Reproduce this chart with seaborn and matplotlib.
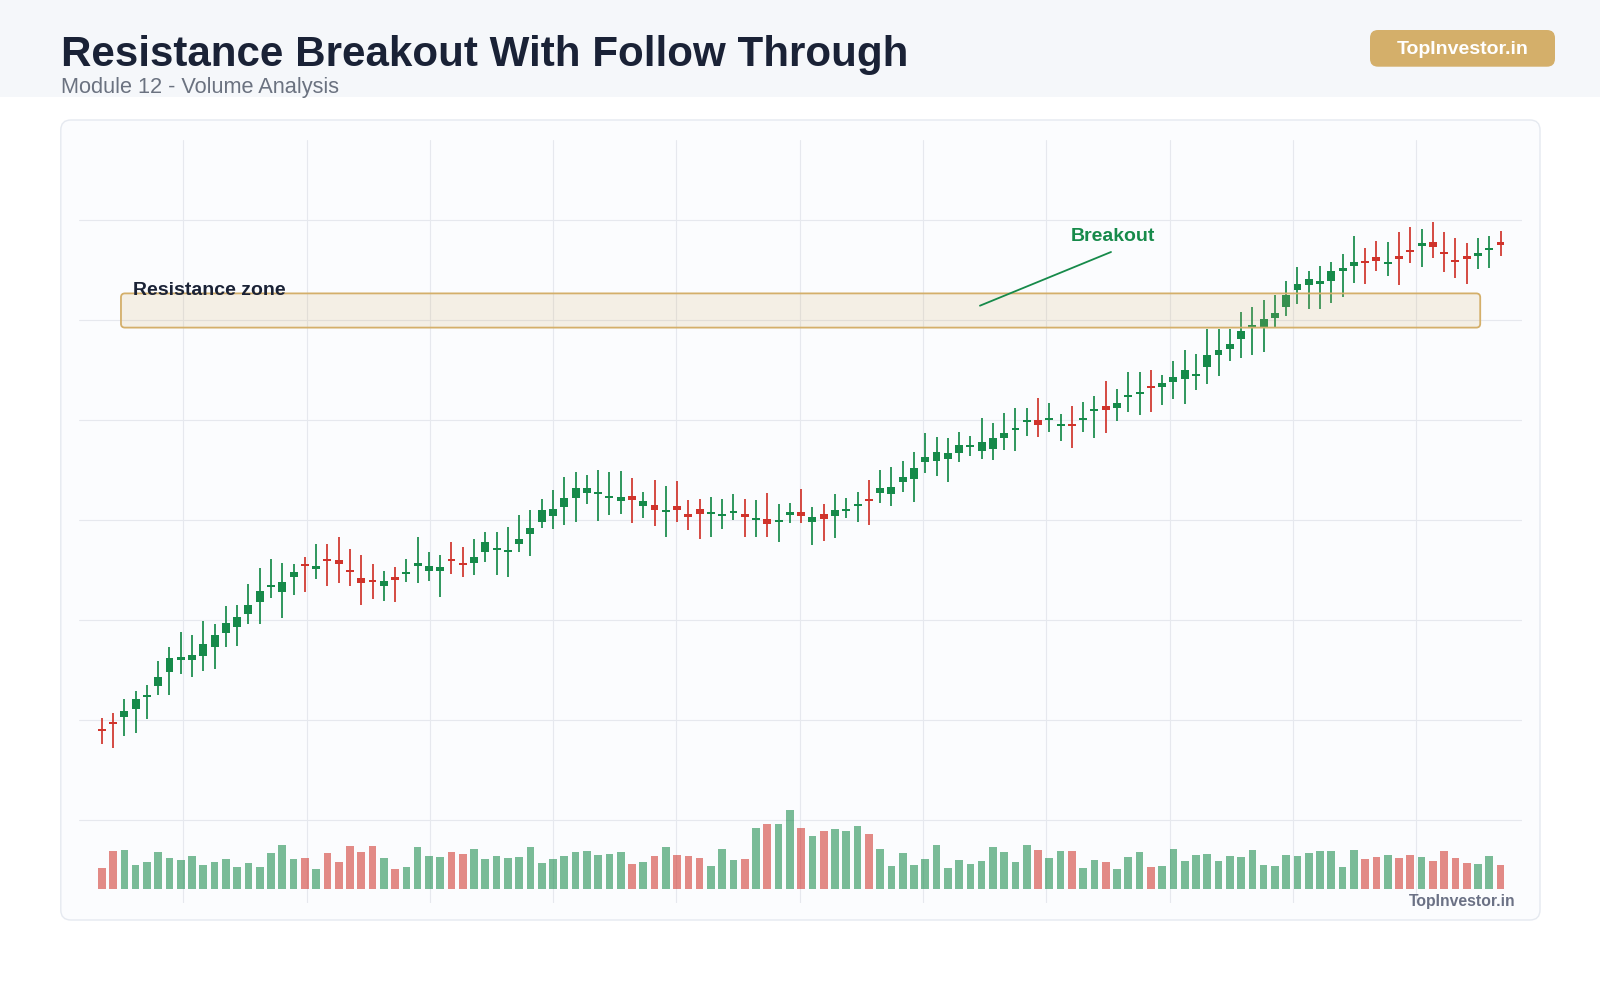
import numpy as np
import pandas as pd
import matplotlib
matplotlib.use("Agg")
import matplotlib.pyplot as plt
from matplotlib.patches import FancyBboxPatch, Rectangle
from matplotlib.colors import to_rgba
import seaborn as sns

# =============================================================================
# DATA
# =============================================================================
TITLE = "Resistance Breakout With Follow Through"
SUBTITLE = "Module 12 - Volume Analysis"
BRAND = "TopInvestor.in"

opens = [99.10, 99.80, 100.31, 101.11, 102.40, 103.44, 104.87, 106.04, 106.01, 106.47,
         107.37, 108.77, 109.37, 110.67, 111.81, 113.40, 112.81, 114.37, 115.60, 115.11,
         116.10, 116.04, 115.00, 114.24, 114.00, 113.41, 114.25, 114.70, 115.55, 114.97,
         114.91, 116.10, 115.70, 115.71, 116.81, 117.10, 116.90, 117.61, 118.61, 119.87,
         120.47, 121.37, 122.27, 122.77, 122.70, 122.30, 121.97, 122.44, 121.41, 121.54,
         120.90, 121.41, 120.55, 121.11, 120.70, 120.50, 120.80, 120.64, 120.10, 120.14,
         119.95, 120.65, 120.87, 119.87, 120.61, 120.41, 121.00, 121.50, 122.10, 122.74,
         122.61, 123.81, 124.11, 125.81, 125.97, 126.17, 126.74, 127.40, 126.91, 127.11,
         128.21, 129.10, 129.90, 130.01, 130.10, 129.50, 129.60, 130.10, 131.00, 131.41,
         131.21, 132.40, 132.70, 133.40, 133.31, 133.87, 134.11, 134.50, 135.34, 136.57,
         137.17, 138.11, 139.40, 139.34, 140.21, 141.31, 143.07, 143.57, 143.75, 143.91,
         144.91, 145.47, 145.90, 146.31, 145.70, 146.35, 147.00, 147.44, 147.81, 146.80,
         146.00, 146.44, 146.41, 147.10, 147.81]
highs = [100.21, 100.71, 102.14, 102.94, 103.54, 105.94, 107.34, 108.81, 108.54, 109.94,
         109.64, 111.44, 111.54, 113.64, 115.21, 116.14, 115.74, 115.64, 116.34, 117.64,
         117.64, 118.34, 117.14, 116.54, 115.64, 114.94, 115.34, 116.14, 118.34, 116.84,
         116.54, 117.84, 117.34, 118.14, 118.84, 118.84, 119.34, 120.54, 121.04, 122.14,
         123.04, 124.34, 124.84, 124.54, 125.04, 124.84, 124.94, 124.24, 122.84, 124.04,
         123.44, 123.94, 122.04, 122.14, 122.34, 122.14, 122.64, 122.14, 122.04, 122.74,
         121.64, 121.74, 123.14, 121.34, 121.64, 122.64, 122.24, 122.84, 124.04, 125.04,
         125.34, 125.94, 126.84, 128.74, 128.34, 128.24, 128.84, 128.44, 130.24, 129.74,
         130.74, 131.24, 131.24, 132.24, 131.74, 130.64, 131.44, 131.84, 132.44, 133.94,
         133.14, 134.84, 134.84, 135.04, 134.54, 135.94, 137.04, 136.64, 139.14, 139.14,
         139.14, 140.84, 141.34, 142.04, 142.54, 143.94, 145.34, 144.94, 145.44, 145.84,
         146.64, 148.44, 147.24, 147.94, 147.84, 148.84, 149.34, 149.14, 149.84, 148.84,
         148.24, 147.74, 148.24, 148.44, 148.94]
lows = [97.64, 97.24, 98.44, 98.77, 100.14, 102.57, 102.57, 104.64, 104.37, 104.94,
        105.14, 107.34, 107.44, 109.64, 109.64, 112.24, 110.24, 112.54, 112.84, 114.14,
        113.44, 113.74, 113.44, 111.54, 112.14, 111.94, 111.84, 113.84, 113.74, 113.94,
        112.37, 114.67, 114.37, 114.57, 115.87, 114.57, 114.37, 116.87, 116.47, 119.27,
        119.17, 119.57, 119.87, 121.67, 119.97, 120.57, 120.67, 119.77, 120.27, 119.47,
        118.37, 119.87, 119.07, 118.17, 118.37, 119.17, 120.07, 118.37, 118.37, 118.37,
        117.87, 119.77, 119.77, 117.57, 117.97, 118.27, 120.27, 119.87, 119.57, 121.77,
        121.47, 122.87, 121.87, 124.77, 124.47, 123.87, 125.87, 126.47, 126.17, 126.07,
        127.07, 126.97, 128.47, 128.37, 128.87, 127.97, 127.27, 128.87, 128.27, 128.77,
        129.97, 130.87, 130.57, 130.87, 131.57, 132.17, 131.67, 133.07, 133.67, 134.44,
        135.94, 136.27, 136.54, 136.84, 139.34, 140.47, 141.67, 141.17, 141.17, 141.77,
        142.37, 143.77, 143.67, 144.97, 144.47, 143.57, 145.77, 145.37, 146.27, 144.87,
        144.27, 143.67, 145.17, 145.27, 146.47]
closes = [99.00, 99.70, 100.91, 102.11, 102.50, 104.31, 106.21, 106.31, 106.51, 107.61,
          108.51, 109.71, 110.37, 111.51, 112.94, 113.50, 113.81, 114.84, 115.50, 115.44,
          115.95, 115.67, 114.90, 113.77, 113.90, 113.94, 114.15, 114.80, 115.65, 115.44,
          115.34, 116.00, 115.60, 116.31, 117.81, 117.20, 117.00, 118.17, 119.21, 121.01,
          121.14, 122.24, 123.21, 123.24, 122.80, 122.40, 122.34, 122.07, 121.91, 121.07,
          121.00, 121.07, 120.45, 120.61, 120.80, 120.60, 120.90, 120.31, 120.20, 119.67,
          120.00, 120.75, 120.47, 120.34, 120.14, 121.01, 121.10, 121.60, 122.00, 123.21,
          123.31, 124.31, 125.21, 126.31, 126.81, 126.71, 127.57, 127.50, 127.87, 128.21,
          128.71, 129.20, 130.00, 129.51, 130.20, 129.60, 129.50, 130.20, 131.10, 131.01,
          131.71, 132.50, 132.80, 133.30, 133.71, 134.34, 135.04, 134.60, 136.54, 137.04,
          137.64, 138.94, 139.50, 140.14, 140.77, 142.54, 143.61, 144.11, 143.85, 144.91,
          145.24, 145.84, 145.80, 145.91, 145.80, 146.25, 146.95, 147.71, 147.34, 146.70,
          145.90, 146.11, 146.74, 147.20, 147.54]
# volume in 10k shares
volumes = [21, 38, 39, 24, 27, 37, 31, 29, 33, 24, 27, 30, 22, 26, 22, 36, 44, 30, 31, 20,
           36, 27, 43, 37, 43, 31, 20, 22, 42, 33, 32, 37, 35, 40, 30, 33, 31, 32, 42, 26,
           30, 33, 37, 38, 34, 35, 37, 25, 27, 33, 42, 34, 33, 31, 23, 40, 29, 30, 61, 65,
           65, 79, 61, 53, 58, 60, 58, 63, 55, 40, 23, 36, 24, 30, 44, 21, 29, 25, 28, 42,
           37, 27, 44, 39, 31, 38, 38, 21, 29, 27, 20, 32, 37, 22, 23, 40, 28, 34, 35, 28,
           33, 32, 39, 24, 23, 34, 33, 36, 38, 38, 22, 39, 30, 32, 34, 31, 34, 32, 28, 38,
           31, 26, 25, 33, 24]

RESISTANCE_LOW = 139.28
RESISTANCE_HIGH = 142.70
ZONE_START, ZONE_END = 1.7, 122.2
ZONE_LABEL = "Resistance zone"
BREAKOUT_LABEL = "Breakout"
BREAKOUT_LINE_X = [77.85, 89.47]
BREAKOUT_LINE_Y = [141.47, 146.84]
BREAKOUT_TEXT_XY = (89.65, 148.37)

PRICE_GRID = [90, 100, 110, 120, 130, 140, 150]
TIME_GRID_START, TIME_GRID_STEP, TIME_GRID_COUNT = 7.22, 10.93, 11

# =============================================================================
# STYLE
# =============================================================================
GREEN = "#168A4A"
RED = "#D0342C"
GOLD = "#D4AF6A"
NAVY = "#1A2236"
GREY_TEXT = "#6B7280"
GRID = "#E6E8EE"

sns.set_theme(style="whitegrid")
plt.rcParams["font.family"] = ["Liberation Sans", "DejaVu Sans"]

df = pd.DataFrame({"open": opens, "high": highs, "low": lows, "close": closes, "volume": volumes})
df["idx"] = np.arange(len(df))
df["up"] = df["close"] >= df["open"]
df["color"] = np.where(df["up"], GREEN, RED)
MIN_BODY = 0.22
body = (df["close"] - df["open"]).abs()
mid = (df["close"] + df["open"]) / 2
df["body_h"] = np.maximum(body, MIN_BODY)
df["body_b"] = np.where(body < MIN_BODY, mid - MIN_BODY / 2, np.minimum(df["open"], df["close"]))

fig = plt.figure(figsize=(16, 10), dpi=100, facecolor="white")

# header band + chart card
fig.patches.append(Rectangle((0, 0.9033), 1, 0.0967, transform=fig.transFigure,
                             facecolor="#F5F7FA", edgecolor="none", zorder=-3))
fig.patches.append(FancyBboxPatch((0.038, 0.08), 0.9245, 0.80, transform=fig.transFigure,
                                  boxstyle="round,pad=0,rounding_size=0.00625", mutation_aspect=1.6,
                                  facecolor="#FBFCFE", edgecolor="#E5E9F0", lw=1.0, zorder=-2))

fig.text(0.03825, 0.9343, TITLE, fontsize=30.3, fontweight="bold", color=NAVY, va="baseline")
fig.text(0.03825, 0.9067, SUBTITLE, fontsize=15.7, color=GREY_TEXT, va="baseline")

fig.patches.append(FancyBboxPatch((0.85625, 0.9333), 0.115625, 0.0367, transform=fig.transFigure,
                                  boxstyle="round,pad=0,rounding_size=0.005", mutation_aspect=1.6,
                                  facecolor=GOLD, edgecolor="none", zorder=1))
fig.text(0.9141, 0.9507, BRAND, fontsize=14, fontweight="bold", color="white", ha="center", va="center")

# =============================================================================
# PRICE AXES
# =============================================================================
ax = fig.add_axes([0.0491, 0.097, 0.9024, 0.763])
ax.set_facecolor("none")
for s in ax.spines.values():
    s.set_visible(False)

ax.vlines(df["idx"], df["low"], df["high"], colors=df["color"], lw=1.25, zorder=2)
ax.bar(df["idx"], df["body_h"], bottom=df["body_b"], width=0.7, color=df["color"],
       edgecolor="none", zorder=3)

ax.set_xlim(-2.06, 125.94)
ax.set_ylim(81.74, 158.04)
ax.set_yticks(PRICE_GRID)
ax.set_xticks([TIME_GRID_START + TIME_GRID_STEP * k for k in range(TIME_GRID_COUNT)])
ax.set_xticklabels([])
ax.set_yticklabels([])
ax.tick_params(length=0)
ax.grid(True, color=GRID, lw=0.8)
ax.set_axisbelow(True)

# resistance zone
zone = FancyBboxPatch((ZONE_START, RESISTANCE_LOW), ZONE_END - ZONE_START, RESISTANCE_HIGH - RESISTANCE_LOW,
                      boxstyle="round,pad=0,rounding_size=0.35", mutation_aspect=1.13,
                      facecolor=to_rgba(GOLD, 0.17), edgecolor=GOLD, lw=1.3, zorder=4)
ax.add_patch(zone)
ax.text(ZONE_START + 1.04, RESISTANCE_HIGH - 0.15, ZONE_LABEL, fontsize=14, fontweight="bold",
        color=NAVY, va="baseline", ha="left", zorder=5)

# breakout annotation
ax.plot(BREAKOUT_LINE_X, BREAKOUT_LINE_Y, color=GREEN, lw=1.3, zorder=5)
ax.text(*BREAKOUT_TEXT_XY, BREAKOUT_LABEL, fontsize=14, fontweight="bold", color=GREEN,
        ha="center", va="center", zorder=5)

# =============================================================================
# VOLUME (overlay)
# =============================================================================
ax2 = ax.twinx()
ax2.bar(df["idx"], df["volume"], width=0.68, color=df["color"], alpha=0.57, edgecolor="none")
vmax = df["volume"].max()
ax2.set_ylim(-0.18 * vmax, 9.48 * vmax)
ax2.grid(False)
ax2.set_yticks([])
for s in ax2.spines.values():
    s.set_visible(False)

fig.text(0.9469, 0.0983, BRAND, fontsize=11.3, fontweight="bold", color="#6B7185",
         ha="right", va="center")

plt.savefig("out.png", dpi=100, facecolor="white")
